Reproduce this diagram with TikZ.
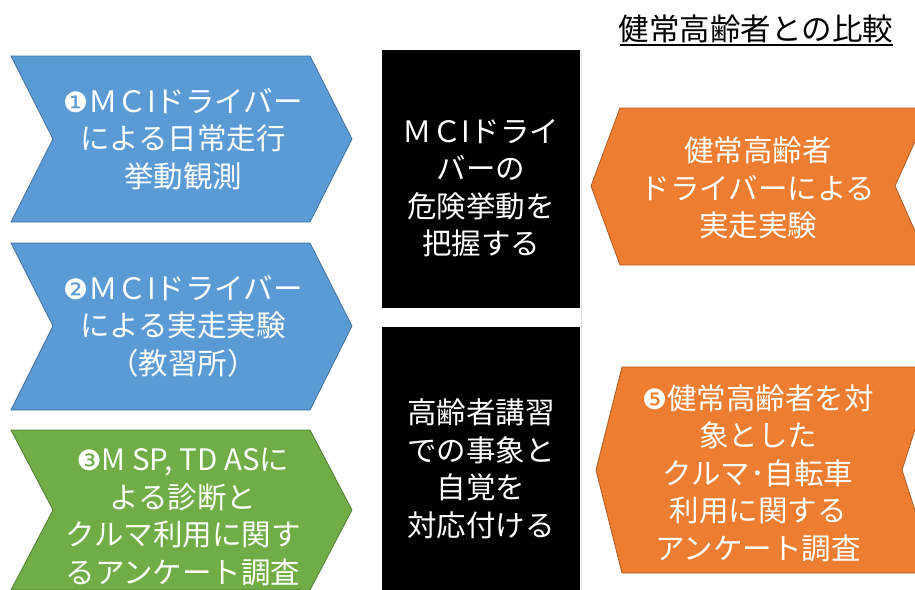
\documentclass[tikz,border=0pt]{standalone}
\usepackage{fontspec}
\newfontfamily\jp{Noto Sans CJK JP}
\newfontfamily\dv{DejaVu Sans}
\definecolor{cblue}{HTML}{5B9BD5}
\definecolor{cblueb}{HTML}{41719C}
\definecolor{cgreen}{HTML}{70AD47}
\definecolor{cgreenb}{HTML}{507E32}
\definecolor{corange}{HTML}{ED7D31}
\definecolor{coranb}{HTML}{AE5A21}
\tikzset{
  shp/.style={line width=0.8pt, line join=miter},
  lbl/.style={text=white, align=center, inner sep=0pt,
    font=\jp\fontsize{29.5}{37.5}\selectfont}
}
\newcommand{\dn}[1]{{\dv\fontsize{28}{28}\selectfont #1}}
\begin{document}
\begin{tikzpicture}[x=1pt,y=-1pt]
\useasboundingbox (0,0) rectangle (915,589);
\clip (0,0) rectangle (915,589);
\fill[white] (0,0) rectangle (915,589);
% separator
\draw[black!12, line width=1pt] (581,50) -- (581,589);
% title
\node[inner sep=0pt, font=\jp\fontsize{30.5}{32}\selectfont] (title) at (756,29) {健常高齢者との比較};
\draw[line width=1.2pt] (620,45) -- (893,45);
% left chevrons
\draw[shp, fill=cblue, draw=cblueb] (11,56) -- (310,56) -- (352,139) -- (310,222) -- (11,222) -- (53,139) -- cycle;
\node[lbl] (c1) at (183,139) {\dn{❶}ＭＣIドライバー\\による日常走行\\挙動観測};
\draw[shp, fill=cblue, draw=cblueb] (11,243) -- (310,243) -- (352,326) -- (310,410) -- (11,410) -- (53,326) -- cycle;
\node[lbl] (c2) at (183,326) {\dn{❷}ＭＣIドライバー\\による実走実験\\（教習所）};
\draw[shp, fill=cgreen, draw=cgreenb] (11,430) -- (310,430) -- (352,510) -- (310,590) -- (11,590) -- (53,510) -- cycle;
\node[lbl] (c3) at (183,517) {\dn{❸}M SP, TD ASに\\よる診断と\\クルマ利用に関す\\るアンケート調査};
% black boxes
\fill[black] (382,50) rectangle (580,308);
\node[lbl] (b1) at (481,188) {ＭＣIドライ\\バーの\\危険挙動を\\把握する};
\fill[black] (382,327) rectangle (580,600);
\node[lbl] (b2) at (481,469) {高齢者講習\\での事象と\\自覚を\\対応付ける};
% orange pentagons
\draw[shp, fill=corange, draw=coranb] (620,108) -- (930,108) -- (895,186) -- (930,265) -- (620,265) -- (591,186) -- cycle;
\node[lbl] (o1) at (758,188) {健常高齢者\\ドライバーによる\\実走実験};
\draw[shp, fill=corange, draw=coranb] (622,367) -- (935,367) -- (902,470) -- (935,573) -- (622,573) -- (596,470) -- cycle;
\node[lbl] (o2) at (758,473) {\dn{❺}健常高齢者を対\\象とした\\クルマ･自転車\\利用に関する\\アンケート調査};
\end{tikzpicture}
\end{document}
